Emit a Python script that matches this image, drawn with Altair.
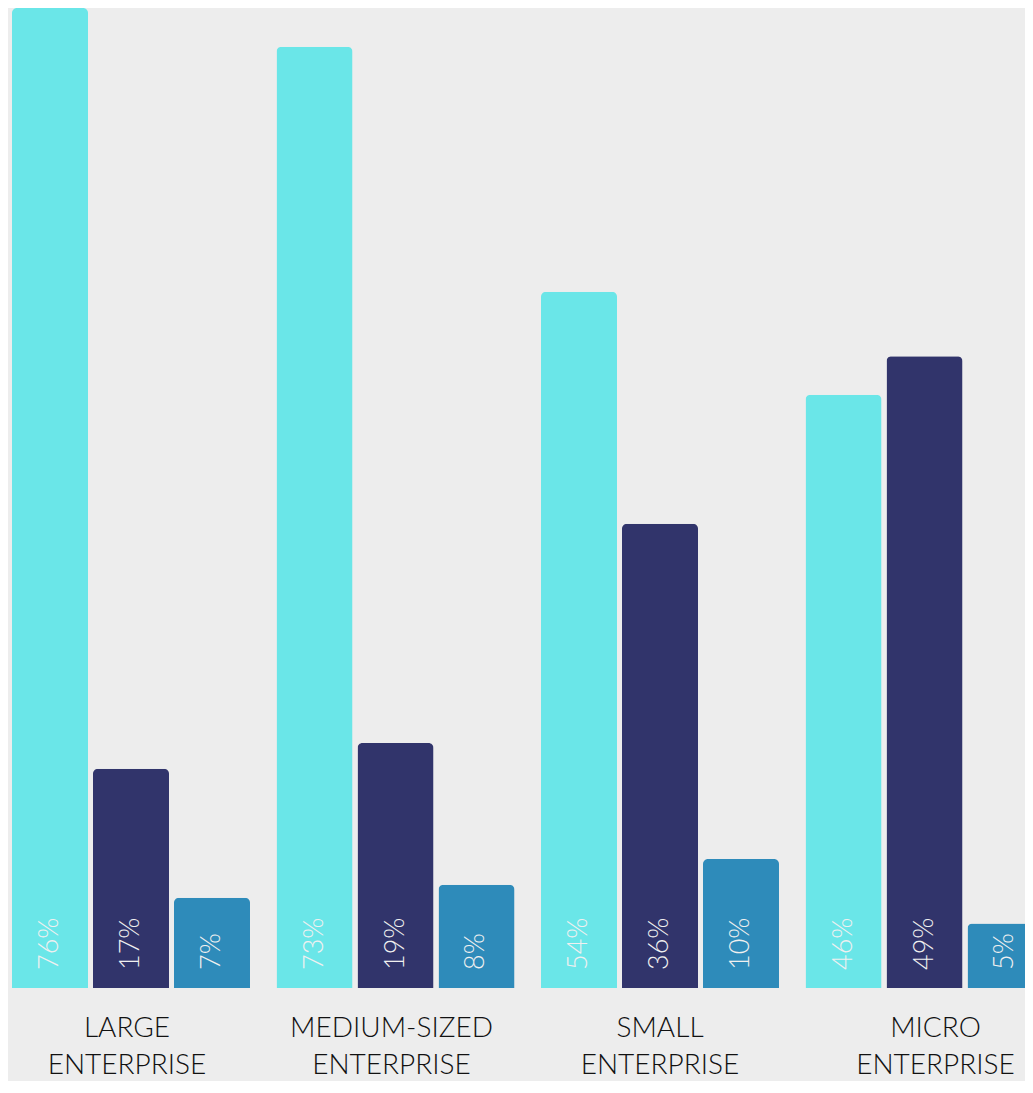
import altair as alt
import pandas as pd

categories = ["LARGE|ENTERPRISE", "MEDIUM-SIZED|ENTERPRISE", "SMALL|ENTERPRISE", "MICRO|ENTERPRISE"]
series = ["Series A", "Series B", "Series C"]
values_a = [76, 73, 54, 46]
values_b = [17, 19, 36, 49]
values_c = [7, 8, 10, 5]
colors = ["#6ae6e8", "#31346b", "#2e8bba"]

rows = []
for i, c in enumerate(categories):
    for s, vals in zip(series, [values_a, values_b, values_c]):
        rows.append({"category": c, "series": s, "value": vals[i], "label": f"{vals[i]}%"})
df = pd.DataFrame(rows)

x_enc = alt.X(
    "category:N",
    sort=categories,
    scale=alt.Scale(range=[-9.25, 1048.75], paddingInner=0, paddingOuter=0),
    axis=alt.Axis(
        title=None, domain=False, ticks=False, labelAngle=0,
        labelExpr="split(datum.label, '|')",
        labelFont="Lato", labelFontWeight=300, labelFontSize=28,
        labelColor="#111111", labelPadding=26, labelLineHeight=37,
        labelLimit=400,
        labelOffset=alt.ExprRef(expr="datum.value == 'MICRO|ENTERPRISE' ? 11 : (datum.value == 'SMALL|ENTERPRISE' ? 0 : -4)"),
    ),
)
xoff = alt.XOffset("series:N", sort=series,
                   scale=alt.Scale(paddingInner=0.0617, paddingOuter=0.1636))
y_enc = alt.Y("value:Q", scale=alt.Scale(domain=[0, 76], nice=False, zero=True), axis=None)

bars = alt.Chart(df).mark_bar(cornerRadiusTopLeft=5, cornerRadiusTopRight=5).encode(
    x=x_enc, xOffset=xoff, y=y_enc,
    color=alt.Color("series:N", sort=series, scale=alt.Scale(domain=series, range=colors), legend=None),
)

labels = alt.Chart(df).mark_text(
    angle=270, align="left", baseline="middle", dx=18,
    font="Lato", fontWeight=300, fontSize=27, color="#f0f0f0",
).encode(
    x=x_enc, xOffset=xoff, y=alt.value(980),
    text="label:N",
)

chart = alt.layer(bars, labels).properties(
    width=1017, height=980,
    padding={"left": 0, "top": 0, "right": 0, "bottom": 93},
    autosize=alt.AutoSizeParams(type="none"),
    background="#ededed",
).configure_view(stroke=None)

chart.save("out.html", embed_options={"renderer": "svg", "actions": False})
